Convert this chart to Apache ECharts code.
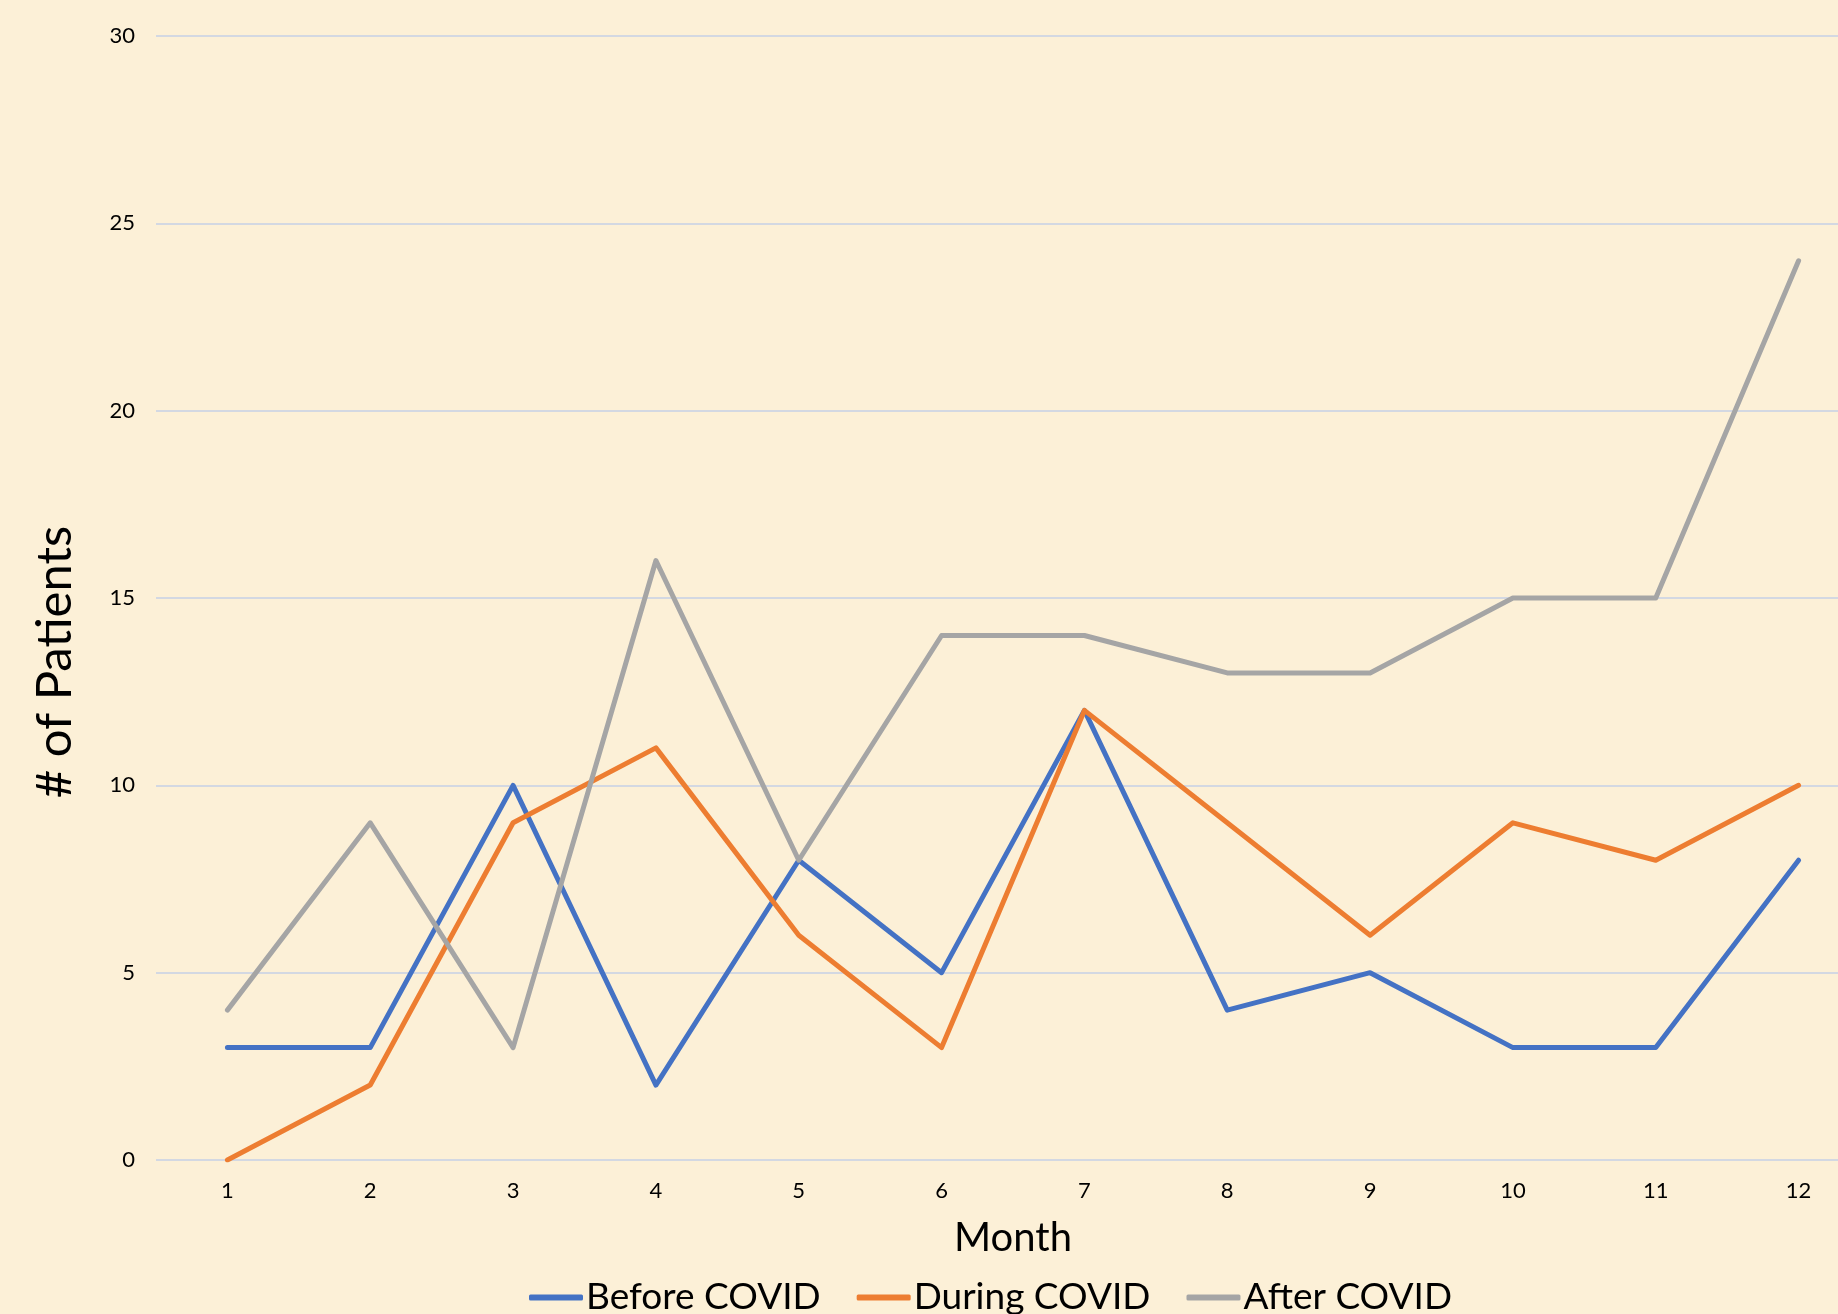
<!DOCTYPE html>
<html>
<head>
<meta charset="utf-8">
<script src="https://cdn.jsdelivr.net/npm/echarts@6/dist/echarts.min.js"></script>
<style>
  html, body { margin: 0; padding: 0; background: #FCF0D7; }
  #chart { width: 1838px; height: 1314px; }
</style>
</head>
<body>
<div id="chart"></div>
<script>
// Monthly patient counts in three periods
const months = ['1', '2', '3', '4', '5', '6', '7', '8', '9', '10', '11', '12'];
const beforeCovid = [3, 3, 10, 2, 8, 5, 12, 4, 5, 3, 3, 8];
const duringCovid = [0, 2, 9, 11, 6, 3, 12, 9, 6, 9, 8, 10];
const afterCovid = [4, 9, 3, 16, 8, 14, 14, 13, 13, 15, 15, 24];

const FONT = 'Lato, "Open Sans", sans-serif';

const chart = echarts.init(document.getElementById('chart'));

function lineSeries(name, data, color) {
  return {
    name: name,
    type: 'line',
    data: data,
    symbol: 'none',
    smooth: false,
    lineStyle: { color: color, width: 5, cap: 'round', join: 'round' },
    itemStyle: { color: color },
    emphasis: { disabled: true }
  };
}

chart.setOption({
  backgroundColor: '#FCF0D7',
  animation: false,
  grid: {
    left: 156,
    top: 36,
    bottom: 154,
    right: -32,
    containLabel: false,
    outerBoundsMode: 'none'
  },
  legend: {
    left: 529,
    top: 1279,
    padding: 0,
    icon: 'roundRect',
    itemWidth: 54,
    itemHeight: 6,
    itemGap: 36,
    textStyle: { fontFamily: FONT, fontSize: 37, color: '#000', padding: [0, 0, 0, -2] },
    data: ['Before COVID', 'During COVID', 'After COVID']
  },
  xAxis: {
    type: 'category',
    data: months,
    boundaryGap: true,
    name: 'Month',
    nameLocation: 'middle',
    nameGap: 58,
    nameTextStyle: { fontFamily: FONT, fontSize: 40, color: '#000' },
    axisLine: { show: false },
    axisTick: { show: false },
    axisLabel: { fontFamily: FONT, fontSize: 22, color: '#000', margin: 20 },
    splitLine: { show: false }
  },
  yAxis: {
    type: 'value',
    min: 0,
    max: 30,
    interval: 5,
    axisLine: { show: false },
    axisTick: { show: false },
    axisLabel: { fontFamily: FONT, fontSize: 22, color: '#000', margin: 21 },
    splitLine: { show: true, lineStyle: { color: '#D3D8E2', width: 2 } }
  },
  graphic: [{
    type: 'text',
    x: 55,
    y: 662,
    rotation: Math.PI / 2,
    style: {
      text: '# of Patients',
      fontFamily: FONT,
      fontSize: 49,
      fill: '#000',
      align: 'center',
      verticalAlign: 'middle'
    }
  }],
  series: [
    lineSeries('Before COVID', beforeCovid, '#4472C4'),
    lineSeries('During COVID', duringCovid, '#ED7D31'),
    lineSeries('After COVID', afterCovid, '#A5A5A5')
  ]
});
</script>
</body>
</html>
